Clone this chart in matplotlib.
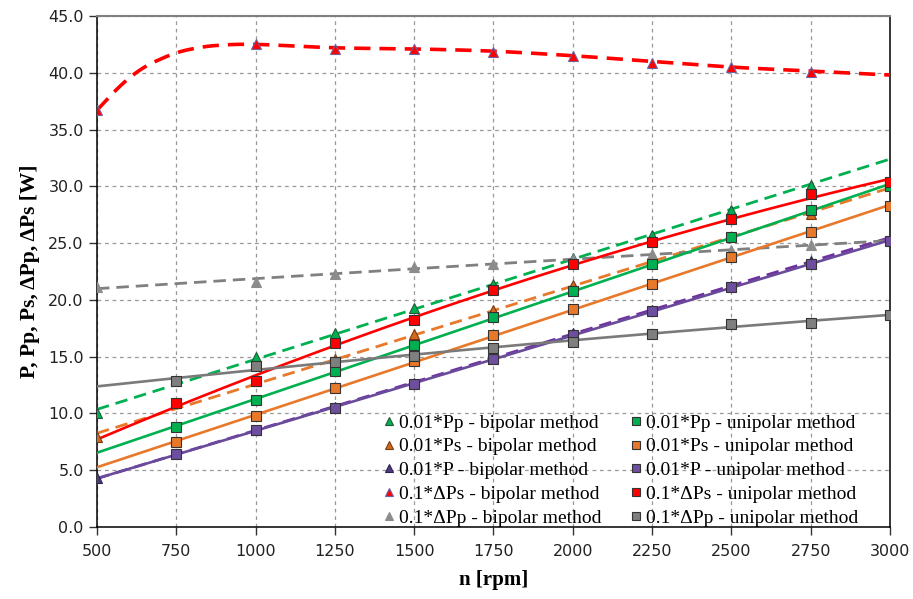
import numpy as np
import matplotlib
matplotlib.use("Agg")
import matplotlib.pyplot as plt
from matplotlib.lines import Line2D

# rotational speed [rpm]
rpm_bip = [500, 1000, 1250, 1500, 1750, 2000, 2250, 2500, 2750]
rpm_uni = [750, 1000, 1250, 1500, 1750, 2000, 2250, 2500, 2750, 3000]

# bipolar method (triangles, dashed trend lines)
pp_bip = [10.0, 15.0, 17.1, 19.3, 21.4, 23.7, 25.7, 27.9, 30.1]
ps_bip = [7.9, 12.9, 14.8, 17.0, 19.1, 21.3, 23.3, 25.5, 27.6]
p_bip = [4.3, 8.5, 10.6, 12.7, 14.9, 17.1, 19.1, 21.2, 23.4]
dps_bip = [36.7, 42.5, 42.1, 42.1, 41.8, 41.5, 40.9, 40.5, 40.1]
dpp_bip = [21.1, 21.6, 22.3, 22.9, 23.2, 23.6, 24.0, 24.4, 24.8]

# smoothed curve of 0.1*dPs (bipolar)
rpm_curve = [500, 550, 600, 650, 700, 750, 800, 875, 1000, 1250, 1500,
             1750, 2000, 2250, 2500, 2750, 3000]
dps_bip_curve = [36.7, 38.2, 39.5, 40.5, 41.2, 41.75, 42.1, 42.4, 42.5, 42.2,
                 42.1, 41.9, 41.5, 41.0, 40.5, 40.15, 39.8]

# unipolar method (squares, solid trend lines)
pp_uni = [8.8, 11.2, 13.7, 16.0, 18.5, 20.8, 23.2, 25.5, 27.9, 30.0]
ps_uni = [7.5, 9.8, 12.2, 14.6, 16.9, 19.2, 21.4, 23.8, 26.0, 28.3]
p_uni = [6.4, 8.5, 10.5, 12.6, 14.8, 16.9, 19.0, 21.1, 23.2, 25.2]
dps_uni = [10.9, 12.9, 16.2, 18.2, 20.9, 23.2, 25.1, 27.1, 29.3, 30.4]
dpp_uni = [12.9, 14.2, 14.5, 15.1, 15.8, 16.3, 17.0, 17.9, 18.0, 18.7]

GREEN = "#00B050"
ORANGE = "#E8782A"
PURPLE = "#7030A0"
PURPLE_DARK = "#4E3A7E"
RED = "#FF0000"
GRAY = "#808080"


def smooth(xs, ys, n=25):
    """Catmull-Rom curve through the given points (like Excel's smoothed line)."""
    p = np.column_stack([xs, ys]).astype(float)
    p = np.vstack([2 * p[0] - p[1], p, 2 * p[-1] - p[-2]])
    t = np.linspace(0, 1, n)[:, None]
    out = []
    for i in range(1, len(p) - 2):
        p0, p1, p2, p3 = p[i - 1], p[i], p[i + 1], p[i + 2]
        seg = 0.5 * ((2 * p1) + (-p0 + p2) * t + (2 * p0 - 5 * p1 + 4 * p2 - p3) * t ** 2
                     + (-p0 + 3 * p1 - 3 * p2 + p3) * t ** 3)
        out.append(seg if i == 1 else seg[1:])
    out = np.vstack(out)
    return out[:, 0], out[:, 1]


series = [
    # label, x, y, colour, marker, marker face, edge, fit degree, style, lw
    ("0.01*Pp - bipolar method", rpm_bip, pp_bip, GREEN, "^", GREEN, "#1E5A3A", 1, "--", 2.0),
    ("0.01*Ps - bipolar method", rpm_bip, ps_bip, ORANGE, "^", "#D4691E", "#7A3A10", 1, "--", 2.0),
    ("0.01*P - bipolar method", rpm_bip, p_bip, PURPLE, "^", PURPLE_DARK, "#2E2250", 1, "--", 2.0),
    ("0.1*\u0394Ps - bipolar method", rpm_bip, dps_bip, RED, "^", RED, "#7060A0", None, "--", 2.6),
    ("0.1*\u0394Pp - bipolar method", rpm_bip, dpp_bip, GRAY, "^", "#8C8C8C", "#8C8C8C", 2, "--", 2.0),
    ("0.01*Pp - unipolar method", rpm_uni, pp_uni, GREEN, "s", GREEN, "#333333", 1, "-", 1.9),
    ("0.01*Ps - unipolar method", rpm_uni, ps_uni, ORANGE, "s", ORANGE, "#333333", 1, "-", 1.9),
    ("0.01*P - unipolar method", rpm_uni, p_uni, "#6A4A9A", "s", "#6E4E9E", "#333333", 1, "-", 1.9),
    ("0.1*\u0394Ps - unipolar method", rpm_uni, dps_uni, RED, "s", RED, "#333333", 2, "-", 1.9),
    ("0.1*\u0394Pp - unipolar method", rpm_uni, dpp_uni, "#7A7A7A", "s", "#7F7F7F", "#333333", 2, "-", 1.9),
]

fig = plt.figure(figsize=(9.13, 5.99), dpi=100)
ax = fig.add_axes([0.1062, 0.1202, 0.8686, 0.8531])

x_line = np.linspace(500, 3000, 200)
handles = []
for label, xs, ys, col, mk, face, edge, deg, ls, lw in series:
    if deg is None:
        lx, ly = smooth(rpm_curve, dps_bip_curve)
    else:
        lx, ly = x_line, np.polyval(np.polyfit(xs, ys, deg), x_line)
    ax.plot(lx, ly, ls, color=col, lw=lw,
            dashes=(4.5, 2.5) if ls == "--" else (None, None), zorder=3)
    ax.plot(xs, ys, linestyle="none", marker=mk, ms=7, mfc=face, mec=edge,
            mew=0.8, zorder=4)
    handles.append(Line2D([], [], linestyle="none", marker=mk, ms=5.5,
                          mfc=face, mec=edge, mew=0.8, label=label))

ax.set_xlim(500, 3000)
ax.set_ylim(0, 45)
ax.set_xticks(np.arange(500, 3001, 250))
ax.set_yticks(np.arange(0, 45.1, 5))
ax.set_yticklabels([f"{v:.1f}" for v in np.arange(0, 45.1, 5)])
ax.grid(True, color="#999999", linestyle=(0, (3, 3)), linewidth=0.9)
ax.set_axisbelow(True)

ax.tick_params(axis="both", direction="out", length=6, width=1,
               labelsize=11.5, labelcolor="#222222", color="#333333")
ax.tick_params(axis="x", pad=6)
for side in ["left", "bottom", "right"]:
    ax.spines[side].set_color("black")
    ax.spines[side].set_linewidth(1.1)
ax.spines["top"].set_color("#808080")
ax.spines["top"].set_linewidth(1.5)

serif = ["Liberation Serif", "DejaVu Serif"]
ax.set_xlabel("n [rpm]", family=serif, fontsize=15, fontweight="bold", labelpad=8)
ax.set_ylabel("P, Pp, Ps, \u0394Pp, \u0394Ps [W]", family=serif, fontsize=15.5,
              fontweight="bold", labelpad=6)

ax.legend(handles=handles, ncol=2, loc="lower right", frameon=False,
          prop={"family": serif, "size": 14}, handletextpad=0.1,
          handlelength=0.8, columnspacing=1.4, labelspacing=0.32,
          borderaxespad=0.0, bbox_to_anchor=(0.97, -0.015))

fig.savefig("out.png", dpi=100)
